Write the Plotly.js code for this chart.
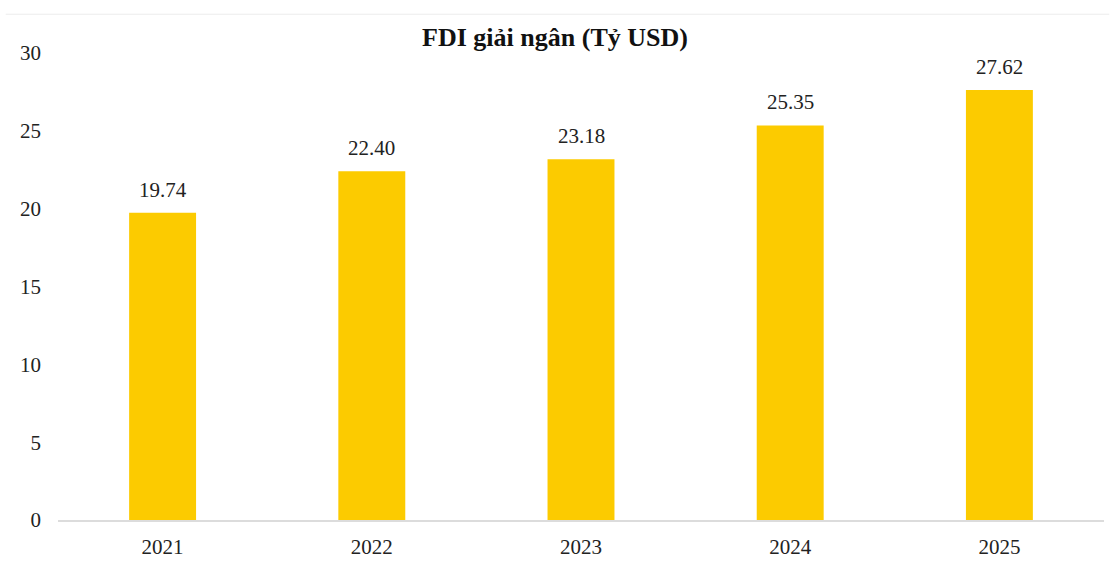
<!DOCTYPE html>
<html>
<head>
<meta charset="utf-8">
<script src="https://cdn.plot.ly/plotly-3.0.1.min.js"></script>
<style>html,body{margin:0;padding:0;background:#fff;}#chart{width:1110px;height:561px;}</style>
</head>
<body>
<div id="chart"></div>
<script>
const years = ["2021", "2022", "2023", "2024", "2025"];
const fdiValues = [19.74, 22.40, 23.18, 25.35, 27.62];
const yTicks = [0, 5, 10, 15, 20, 25, 30];
const chartTitle = "FDI giải ngân (Tỷ USD)";

const serif = "Liberation Serif, Times New Roman, serif";

const trace = {
  type: "bar",
  x: years,
  y: fdiValues,
  width: 0.32,
  marker: {color: "#FCCB00"},
  hoverinfo: "none"
};

// category axis: annotation x given as category index
const labels = years.map((yr, i) => ({
  x: i, y: fdiValues[i], xref: "x", yref: "y",
  text: fdiValues[i].toFixed(2),
  showarrow: false, yanchor: "bottom", yshift: 9,
  font: {family: serif, size: 21, color: "#222"}
}));

const layout = {
  width: 1110,
  height: 561,
  margin: {l: 58, r: 6, t: 53, b: 41},
  paper_bgcolor: "#fff",
  plot_bgcolor: "#fff",
  showlegend: false,
  title: {
    text: "<b>" + chartTitle + "</b>",
    font: {family: serif, size: 26, color: "#111"},
    x: 0.5, xanchor: "center", xref: "container",
    y: 0.935, yanchor: "middle"
  },
  xaxis: {
    type: "category",
    categoryarray: years,
    range: [-0.5, years.length - 0.5],
    showgrid: false,
    zeroline: false,
    showline: true,
    linecolor: "#dcdcdc",
    linewidth: 1.5,
    ticks: "",
    ticklabelstandoff: 7,
    tickfont: {family: serif, size: 21, color: "#222"}
  },
  yaxis: {
    range: [0, 30],
    tickvals: yTicks,
    showgrid: false,
    zeroline: false,
    showline: false,
    ticks: "",
    ticklabelstandoff: 16,
    tickfont: {family: serif, size: 21, color: "#222"}
  },
  annotations: labels,
  shapes: [
    {type: "line", xref: "paper", yref: "paper", x0: -0.05, x1: 1.005, y0: 1.083, y1: 1.083,
     line: {color: "#ececec", width: 1}}
  ]
};

Plotly.newPlot("chart", [trace], layout, {displayModeBar: false, staticPlot: true});
</script>
</body>
</html>
